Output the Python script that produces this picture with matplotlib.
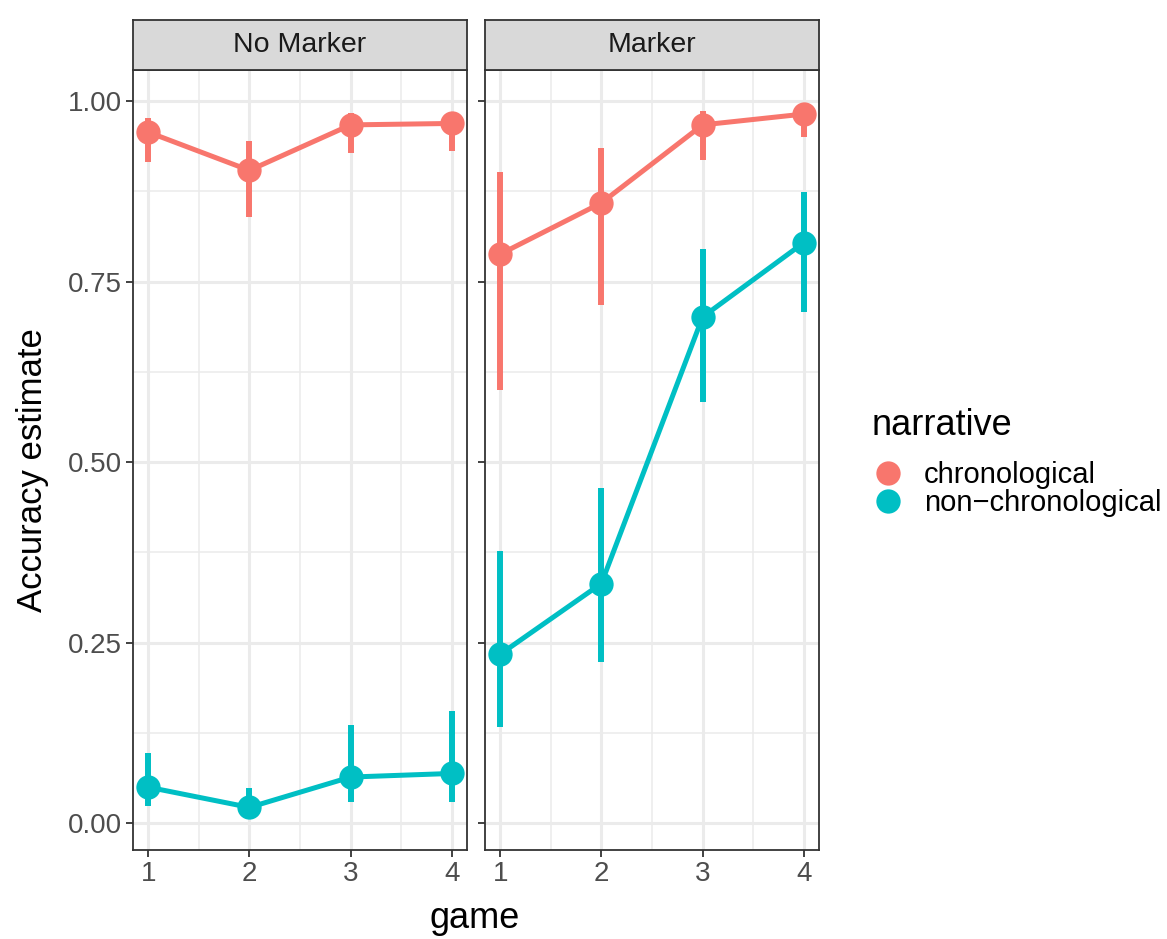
import numpy as np
import matplotlib.pyplot as plt
from matplotlib.lines import Line2D

plt.rcParams['font.family'] = ['Liberation Sans', 'DejaVu Sans']

# ------------------------------------------------------------
# Données
# ------------------------------------------------------------
games = [1, 2, 3, 4]
panels = ['No Marker', 'Marker']
narratives = ['chronological', 'non\u2212chronological']
colors = ['#F8766D', '#00BFC4']

# No Marker
nm_chrono_est = [0.957, 0.904, 0.967, 0.969]
nm_chrono_lo = [0.915, 0.839, 0.928, 0.931]
nm_chrono_hi = [0.976, 0.945, 0.983, 0.985]
nm_nonchrono_est = [0.050, 0.022, 0.064, 0.069]
nm_nonchrono_lo = [0.024, 0.011, 0.029, 0.029]
nm_nonchrono_hi = [0.097, 0.049, 0.136, 0.155]

# Marker
m_chrono_est = [0.788, 0.859, 0.967, 0.982]
m_chrono_lo = [0.600, 0.717, 0.918, 0.950]
m_chrono_hi = [0.902, 0.935, 0.986, 0.993]
m_nonchrono_est = [0.234, 0.332, 0.701, 0.804]
m_nonchrono_lo = [0.134, 0.224, 0.584, 0.708]
m_nonchrono_hi = [0.377, 0.464, 0.795, 0.874]

panel_data = {
    'No Marker': [(nm_chrono_est, nm_chrono_lo, nm_chrono_hi),
                  (nm_nonchrono_est, nm_nonchrono_lo, nm_nonchrono_hi)],
    'Marker': [(m_chrono_est, m_chrono_lo, m_chrono_hi),
               (m_nonchrono_est, m_nonchrono_lo, m_nonchrono_hi)],
}

yticks = [0.00, 0.25, 0.50, 0.75, 1.00]
ytick_labels = ['0.00', '0.25', '0.50', '0.75', '1.00']

# ------------------------------------------------------------
# Figure
# ------------------------------------------------------------
W, H = 1167, 939
fig = plt.figure(figsize=(W / 100, H / 100), dpi=100)

def fx(px):
    return px / W

def fy(py):
    return 1 - py / H

panel_left = [133, 485]
panel_w = 334
plot_top, plot_bot = 70, 850
strip_top = 20

grey = '#EBEBEB'
border = '#333333'

axes = []
for i, name in enumerate(panels):
    ax = fig.add_axes([fx(panel_left[i]), fy(plot_bot), panel_w / W,
                       (plot_bot - plot_top) / H])
    axes.append(ax)
    ax.set_xlim(0.85, 4.15)
    ax.set_ylim(-0.037, 1.043)

    # grille
    for g in [1.5, 2.5, 3.5]:
        ax.axvline(g, color=grey, lw=1.1, zorder=0)
    for g in [0.125, 0.375, 0.625, 0.875]:
        ax.axhline(g, color=grey, lw=1.1, zorder=0)
    for g in games:
        ax.axvline(g, color=grey, lw=2.2, zorder=0)
    for g in yticks:
        ax.axhline(g, color=grey, lw=2.2, zorder=0)

    for (est, lo, hi), col in zip(panel_data[name], colors):
        ax.vlines(games, lo, hi, color=col, lw=4.3, zorder=2)
        ax.plot(games, est, '-', color=col, lw=3.6, zorder=3)
        ax.plot(games, est, 'o', color=col, ms=17.5, mec='none', zorder=4)

    for s in ax.spines.values():
        s.set_color(border)
        s.set_linewidth(1.3)

    ax.set_xticks(games)
    ax.set_xticklabels([str(g) for g in games])
    ax.set_yticks(yticks)
    if i == 0:
        ax.set_yticklabels(ytick_labels)
    else:
        ax.set_yticklabels([])
    ax.tick_params(axis='both', direction='out', length=5, width=1.3,
                   color=border, labelsize=20, labelcolor='#4D4D4D', pad=3)

    # bandeau
    sax = fig.add_axes([fx(panel_left[i]), fy(plot_top), panel_w / W,
                        (plot_top - strip_top) / H])
    sax.set_facecolor('#D9D9D9')
    sax.set_xticks([])
    sax.set_yticks([])
    for s in sax.spines.values():
        s.set_color(border)
        s.set_linewidth(1.3)
    sax.text(0.5, 0.5, name, ha='center', va='center', fontsize=20.5,
             color='#1A1A1A', transform=sax.transAxes)

fig.text(fx(33), fy(470), 'Accuracy estimate', rotation=90, ha='center',
         va='center', fontsize=25)
fig.text(fx(475), fy(918), 'game', ha='center', va='center', fontsize=26)

# légende
fig.text(fx(872), fy(425), 'narrative', ha='left', va='center', fontsize=26)
handles = [Line2D([], [], marker='o', ls='none', color=c, ms=17.5, mec='none')
           for c in colors]
leg = fig.legend(handles, narratives,
                 loc='upper left', bbox_to_anchor=(fx(873), fy(461)),
                 frameon=False, fontsize=21,
                 handlelength=1.0, handletextpad=0.75, labelspacing=0.0,
                 borderaxespad=0, borderpad=0)

fig.savefig('out.png', dpi=100)
